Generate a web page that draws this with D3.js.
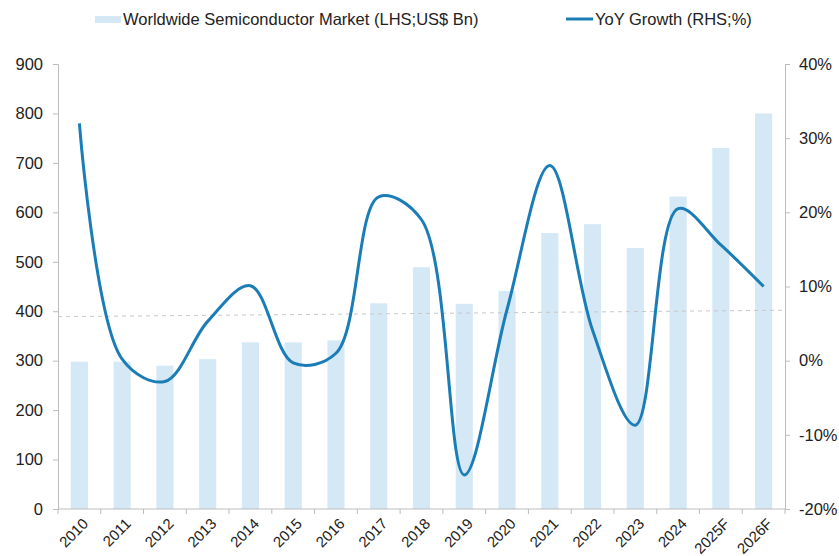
<!DOCTYPE html>
<html>
<head>
<meta charset="utf-8">
<script src="https://cdn.jsdelivr.net/npm/d3@7"></script>
<style>
  body { margin: 0; background: #fff; }
  svg { display: block; font-family: "Liberation Sans", Arial, sans-serif; }
</style>
</head>
<body>
<div id="chart"></div>
<script>
// chart data
const years = ['2010', '2011', '2012', '2013', '2014', '2015', '2016', '2017', '2018',
  '2019', '2020', '2021', '2022', '2023', '2024', '2025F', '2026F']
const market = [298, 298, 290, 303, 337, 337, 341, 416, 489, 415, 441, 558, 576, 528, 632, 730, 800]
const growth = [32.0, 0.2, -2.8, 5.3, 10.1, -0.3, 1.0, 22.1, 19.0, -15.4, 6.9, 26.3, 4.1, -8.7, 20.5, 15.6, 10.0]
const leftTicks = [0, 100, 200, 300, 400, 500, 600, 700, 800, 900]
const rightTicks = [-20, -10, 0, 10, 20, 30, 40]
const refLine = [389, 402] // dashed guide, start/end in LHS units
const legendLabels = ['Worldwide Semiconductor Market (LHS;US$ Bn)', 'YoY Growth (RHS;%)']

const W = 839
const H = 556
const m = { left: 58, right: 785, top: 64, bottom: 509 }
const barColor = '#d5e8f6'
const lineColor = '#1a7db6'
const axisColor = '#bdbdbd'
const textColor = '#222'

const svg = d3.select('#chart').append('svg')
  .attr('width', W)
  .attr('height', H)

const x = d3.scaleBand()
  .domain(years)
  .range([m.left, m.right])
  .paddingInner(0.6)
  .paddingOuter(0.3)

const yL = d3.scaleLinear().domain([0, 900]).range([m.bottom, m.top])
const yR = d3.scaleLinear().domain([-20, 40]).range([m.bottom, m.top])

// bars
svg.append('g')
  .selectAll('rect')
  .data(market)
  .enter().append('rect')
  .attr('x', (d, i) => x(years[i]))
  .attr('y', d => yL(d))
  .attr('width', x.bandwidth())
  .attr('height', d => yL(0) - yL(d))
  .attr('fill', barColor)

// dashed guide
svg.append('line')
  .attr('x1', m.left)
  .attr('x2', m.right)
  .attr('y1', yL(refLine[0]))
  .attr('y2', yL(refLine[1]))
  .attr('stroke', '#c8c8c8')
  .attr('stroke-width', 1)
  .attr('stroke-dasharray', '4,4')

// left axis
const leftAxis = svg.append('g')
  .attr('transform', `translate(${m.left},0)`)
  .call(d3.axisLeft(yL).tickValues(leftTicks).tickSize(5).tickPadding(10))
leftAxis.select('.domain').attr('stroke', axisColor)

// right axis
const rightAxis = svg.append('g')
  .attr('transform', `translate(${m.right},0)`)
  .call(d3.axisRight(yR).tickValues(rightTicks).tickSize(5).tickPadding(9).tickFormat(d => d + '%'))
rightAxis.select('.domain').attr('stroke', axisColor)

svg.selectAll('.tick line').attr('stroke', axisColor)
svg.selectAll('.tick text')
  .attr('fill', textColor)
  .style('font-size', '16.5px')
  .style('font-family', '"Liberation Sans", Arial, sans-serif')

// bottom axis: line, boundary ticks, rotated labels
const step = x.step()
const bottom = svg.append('g')
bottom.append('line')
  .attr('x1', m.left).attr('x2', m.right)
  .attr('y1', m.bottom).attr('y2', m.bottom)
  .attr('stroke', axisColor)
bottom.selectAll('.btick')
  .data(d3.range(years.length + 1))
  .enter().append('line')
  .attr('class', 'btick')
  .attr('x1', i => m.left + i * step)
  .attr('x2', i => m.left + i * step)
  .attr('y1', m.bottom)
  .attr('y2', m.bottom + 5)
  .attr('stroke', axisColor)
bottom.selectAll('.blabel')
  .data(years)
  .enter().append('text')
  .attr('class', 'blabel')
  .attr('transform', d => `translate(${x(d) + x.bandwidth() / 2 + 6},${m.bottom + 12}) rotate(-45)`)
  .attr('text-anchor', 'end')
  .attr('dy', '0.35em')
  .attr('fill', textColor)
  .style('font-size', '15px')
  .text(d => d)

// growth line
const line = d3.line()
  .x((d, i) => x(years[i]) + x.bandwidth() / 2)
  .y(d => yR(d))
  .curve(d3.curveCatmullRom.alpha(0.5))

svg.append('path')
  .datum(growth)
  .attr('d', line)
  .attr('fill', 'none')
  .attr('stroke', lineColor)
  .attr('stroke-width', 3)
  .attr('stroke-linejoin', 'round')

// legend
const legend = svg.append('g')
legend.append('rect')
  .attr('x', 95).attr('y', 16)
  .attr('width', 26).attr('height', 7)
  .attr('fill', barColor)
legend.append('text')
  .attr('x', 123).attr('y', 19)
  .attr('dy', '0.35em')
  .attr('fill', textColor)
  .style('font-size', '16.5px')
  .text(legendLabels[0])
legend.append('line')
  .attr('x1', 566).attr('x2', 593)
  .attr('y1', 19).attr('y2', 19)
  .attr('stroke', lineColor)
  .attr('stroke-width', 3)
legend.append('text')
  .attr('x', 595).attr('y', 19)
  .attr('dy', '0.35em')
  .attr('fill', textColor)
  .style('font-size', '16.5px')
  .text(legendLabels[1])
</script>
</body>
</html>
